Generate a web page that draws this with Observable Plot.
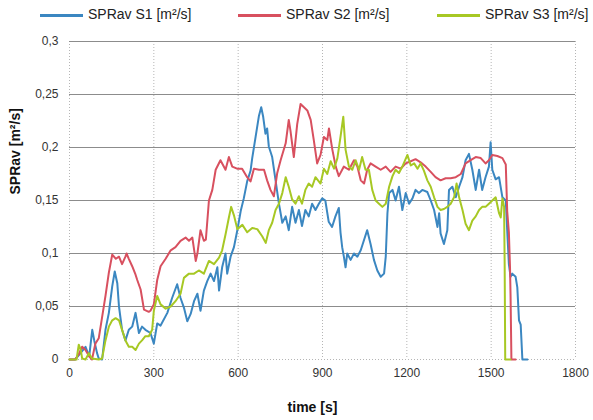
<!DOCTYPE html>
<html>
<head>
<meta charset="utf-8">
<script src="https://cdn.jsdelivr.net/npm/d3@7"></script>
<script src="https://cdn.jsdelivr.net/npm/@observablehq/plot@0.6"></script>
<style>
  body { margin: 0; background: #fff; font-family: "Liberation Sans", Arial, sans-serif; }
  #wrap { width: 593px; }
  #legend { position: relative; height: 28px; width: 593px; }
  .item { position: absolute; top: 6px; font-size: 14px; color: #222; white-space: nowrap; }
  .swatch { position: absolute; top: 14px; height: 2.5px; width: 43px; }
</style>
</head>
<body>
<div id="wrap">
  <div id="legend"></div>
  <div id="chart"></div>
</div>
<script>
const seriesNames = ["SPRav S1 [m²/s]", "SPRav S2 [m²/s]", "SPRav S3 [m²/s]"];
const seriesColors = ["#3b87c1", "#d8505f", "#a7c824"];
const xTicks = [0, 300, 600, 900, 1200, 1500, 1800];
const yTicks = [0, 0.05, 0.1, 0.15, 0.2, 0.25, 0.3];

const s1Time = [0,20,39,57,70,81,88,98,104,116,128,140,152,161,170,176,187,199,211,223,235,247,258,270,288,300,312,324,348,365,383,395,407,419,431,443,455,466,478,490,502,514,526,532,543,555,561,573,585,597,609,620,632,644,650,662,674,682,689,697,703,709,721,733,745,757,769,780,792,804,816,827,839,851,863,875,887,899,910,922,934,946,958,964,970,976,982,988,1000,1012,1024,1036,1048,1059,1071,1083,1095,1107,1119,1125,1131,1137,1149,1160,1172,1184,1196,1208,1220,1231,1243,1255,1273,1285,1297,1309,1315,1320,1332,1344,1350,1362,1374,1386,1398,1409,1421,1433,1445,1457,1468,1480,1492,1498,1504,1516,1528,1540,1552,1557,1563,1569,1575,1587,1593,1599,1605,1611,1629];
const s1Value = [0,0,0.006,0.012,0.003,0.028,0.018,0.006,0.001,0,0.028,0.044,0.069,0.083,0.072,0.05,0.028,0.018,0.028,0.031,0.044,0.025,0.031,0.028,0.025,0.015,0.034,0.032,0.044,0.058,0.071,0.058,0.049,0.036,0.043,0.055,0.062,0.046,0.065,0.074,0.081,0.074,0.087,0.065,0.087,0.1,0.081,0.097,0.106,0.122,0.14,0.152,0.168,0.178,0.19,0.21,0.23,0.238,0.229,0.213,0.218,0.201,0.191,0.169,0.147,0.129,0.135,0.122,0.144,0.129,0.141,0.126,0.141,0.135,0.147,0.141,0.147,0.152,0.15,0.13,0.125,0.135,0.143,0.12,0.106,0.097,0.087,0.1,0.094,0.1,0.097,0.103,0.113,0.122,0.109,0.094,0.084,0.078,0.081,0.097,0.138,0.157,0.16,0.15,0.163,0.141,0.157,0.147,0.152,0.16,0.157,0.16,0.158,0.15,0.141,0.125,0.138,0.119,0.109,0.122,0.16,0.163,0.153,0.163,0.172,0.188,0.194,0.179,0.16,0.179,0.16,0.172,0.182,0.205,0.179,0.17,0.172,0.153,0.15,0.122,0.09,0.078,0.081,0.078,0.068,0.037,0.033,0,0];

const s2Time = [0,20,33,45,57,70,80,92,104,116,128,140,152,165,176,187,199,203,211,223,235,241,253,265,282,288,300,312,324,342,360,377,395,413,425,437,449,455,466,478,485,496,508,520,537,555,567,579,596,614,632,644,656,674,692,703,715,727,739,751,769,780,786,798,810,822,834,846,858,869,881,893,905,917,923,935,947,958,976,994,1012,1024,1036,1048,1059,1071,1089,1107,1125,1142,1160,1178,1196,1214,1231,1249,1267,1285,1302,1320,1338,1356,1374,1392,1409,1427,1445,1463,1480,1492,1504,1522,1540,1552,1557,1563,1567,1569,1572,1587];
const s2Value = [0,0,0.005,0.012,0.009,0.003,0,0.015,0.02,0.04,0.06,0.082,0.099,0.095,0.097,0.09,0.097,0.1,0.095,0.088,0.08,0.075,0.066,0.047,0.045,0.046,0.052,0.075,0.088,0.095,0.103,0.106,0.112,0.115,0.112,0.115,0.093,0.1,0.122,0.112,0.113,0.15,0.16,0.179,0.188,0.179,0.191,0.182,0.18,0.18,0.172,0.168,0.18,0.179,0.179,0.169,0.16,0.154,0.176,0.188,0.204,0.226,0.216,0.191,0.222,0.241,0.238,0.235,0.226,0.207,0.185,0.193,0.21,0.207,0.218,0.198,0.182,0.173,0.182,0.179,0.188,0.182,0.169,0.166,0.179,0.185,0.182,0.179,0.182,0.177,0.182,0.18,0.185,0.187,0.189,0.186,0.182,0.177,0.172,0.169,0.171,0.171,0.172,0.175,0.185,0.188,0.191,0.19,0.185,0.188,0.193,0.192,0.19,0.184,0.14,0.12,0.087,0.06,0,0];

const s3Time = [0,25,33,40,45,57,69,80,104,116,128,140,152,164,176,187,199,211,223,235,247,258,270,282,294,300,312,324,342,360,377,395,407,425,443,460,478,496,514,532,543,555,567,575,585,597,615,632,650,668,686,698,709,721,733,745,757,769,780,792,804,816,827,839,851,863,875,893,905,917,929,941,953,964,974,982,994,1006,1018,1030,1041,1053,1065,1077,1089,1101,1113,1125,1137,1149,1160,1172,1184,1202,1214,1226,1238,1249,1261,1273,1285,1297,1309,1320,1332,1344,1356,1368,1377,1386,1398,1409,1421,1433,1445,1457,1468,1480,1492,1504,1516,1528,1534,1540,1546,1548,1550,1569];
const s3Value = [0,0,0.014,0.009,0.001,0,0.006,0.001,0,0.001,0.018,0.031,0.037,0.039,0.037,0.028,0.018,0.012,0.012,0.009,0.015,0.018,0.022,0.022,0.028,0.046,0.06,0.052,0.048,0.05,0.055,0.062,0.077,0.081,0.081,0.084,0.081,0.093,0.09,0.096,0.103,0.118,0.134,0.144,0.136,0.123,0.127,0.12,0.124,0.123,0.116,0.11,0.122,0.129,0.141,0.147,0.157,0.172,0.163,0.151,0.147,0.154,0.147,0.16,0.166,0.163,0.172,0.166,0.18,0.175,0.187,0.18,0.19,0.21,0.229,0.198,0.182,0.179,0.188,0.179,0.191,0.179,0.179,0.16,0.15,0.147,0.144,0.147,0.163,0.173,0.179,0.176,0.182,0.193,0.183,0.185,0.18,0.185,0.178,0.169,0.163,0.153,0.144,0.141,0.142,0.144,0.147,0.153,0.166,0.153,0.141,0.128,0.122,0.131,0.135,0.141,0.144,0.144,0.147,0.15,0.153,0.138,0.134,0.152,0.144,0.09,0,0];

// legend
const legendX = [40, 238, 437];
const legend = document.getElementById("legend");
seriesNames.forEach((name, i) => {
  const sw = document.createElement("div");
  sw.className = "swatch";
  sw.style.left = legendX[i] + "px";
  sw.style.background = seriesColors[i];
  legend.appendChild(sw);
  const tx = document.createElement("div");
  tx.className = "item";
  tx.style.left = (legendX[i] + 48) + "px";
  tx.textContent = name;
  legend.appendChild(tx);
});

const fmtY = d => String(d).replace(".", ",");
const fmtX = d => String(d);
const series = [[s1Time, s1Value], [s2Time, s2Value], [s3Time, s3Value]];

const chart = Plot.plot({
  width: 593,
  height: 392,
  marginTop: 13,
  marginLeft: 69,
  marginRight: 18,
  marginBottom: 61,
  style: { fontFamily: "'Liberation Sans', Arial, sans-serif", fontSize: "12px", color: "#333", background: "#fff" },
  x: { domain: [0, 1800], ticks: xTicks, tickSize: 0, tickPadding: 9, label: null, tickFormat: fmtX },
  y: { domain: [0, 0.3], ticks: yTicks, tickSize: 0, tickPadding: 11, label: null, tickFormat: fmtY },
  marks: [
    Plot.ruleX(xTicks, { stroke: "#b5b5b5", strokeDasharray: "1,2" }),
    Plot.ruleY([0], { stroke: "#b5b5b5", strokeDasharray: "1,2" }),
    Plot.ruleY(yTicks.filter(d => d > 0), { stroke: "#8c8c8c", strokeWidth: 1.2 }),
    ...series.map(([t, v], i) => Plot.line(v, { x: t, y: v, stroke: seriesColors[i], strokeWidth: 2, curve: "linear" })),
    Plot.text(["SPRav [m²/s]"], { frameAnchor: "left", dx: -54, dy: -6, rotate: -90, fontWeight: "bold", fontSize: 14, fill: "#111" }),
    Plot.text(["time [s]"], { frameAnchor: "bottom", dx: -10, dy: 52, fontWeight: "bold", fontSize: 14, fill: "#111" })
  ]
});
document.getElementById("chart").appendChild(chart);
</script>
</body>
</html>
